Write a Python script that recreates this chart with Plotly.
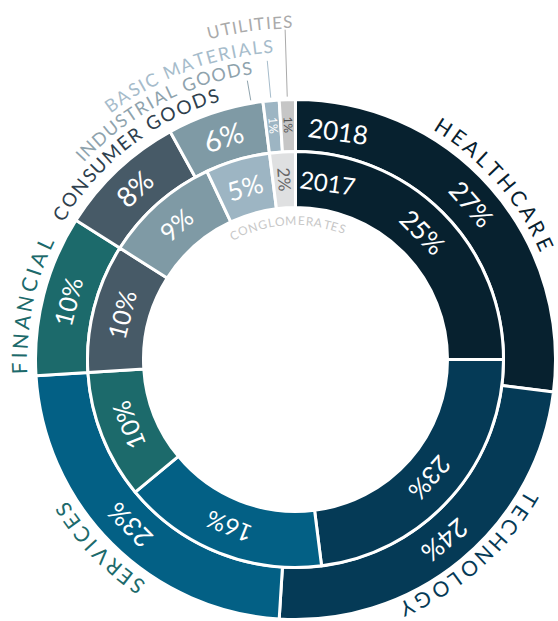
import math
import plotly.graph_objects as go

# ---------------- data ----------------
outer_labels = ["Healthcare", "Technology", "Services", "Financial",
                "Consumer Goods", "Industrial Goods", "Basic Materials", "Utilities"]
outer_values = [27, 24, 23, 10, 8, 6, 1, 1]          # 2018
inner_labels = ["Healthcare", "Technology", "Services", "Financial",
                "Consumer Goods", "Industrial Goods", "Basic Materials", "Conglomerates"]
inner_values = [25, 23, 16, 10, 10, 9, 5, 2]          # 2017
ring_years = ["2018", "2017"]

# ---------------- style ----------------
W, H = 558, 621
CX, CY = 295.5, 359.5
R_OUT, R_MID, R_IN = 260, 208, 152
FONT = "Lato, 'Open Sans', sans-serif"

colors = {
    "Healthcare": "#07212f",
    "Technology": "#053a56",
    "Services": "#036085",
    "Financial": "#1c6a6b",
    "Consumer Goods": "#475a67",
    "Industrial Goods": "#7f9aa5",
    "Basic Materials": "#9db5c3",
    "Utilities": "#c6c6c6",
    "Conglomerates": "#dfe0e1",
}
pct_text_color = {"Utilities": "#555555", "Conglomerates": "#666666"}

outer_pct_size = [26, 26, 26, 25, 28, 29, 12, 12]
inner_pct_size = [26, 25, 24, 25, 25, 25, 26, 17]

fig = go.Figure()


def dom(r):
    return dict(x=[(CX - r) / W, (CX + r) / W],
                y=[(H - CY - r) / H, (H - CY + r) / H])


fig.add_trace(go.Pie(labels=outer_labels, values=outer_values, sort=False,
                     direction="clockwise", rotation=0, hole=R_MID / R_OUT,
                     domain=dom(R_OUT), textinfo="none", hoverinfo="label+value",
                     marker=dict(colors=[colors[l] for l in outer_labels],
                                 line=dict(color="white", width=3)),
                     showlegend=False))
fig.add_trace(go.Pie(labels=inner_labels, values=inner_values, sort=False,
                     direction="clockwise", rotation=0, hole=R_IN / R_MID,
                     domain=dom(R_MID), textinfo="none", hoverinfo="label+value",
                     marker=dict(colors=[colors[l] for l in inner_labels],
                                 line=dict(color="white", width=3)),
                     showlegend=False))

annotations = []
shapes = []


def norm(a):
    return (a + 180) % 360 - 180


def pt(r, th):
    t = math.radians(th)
    return CX + r * math.sin(t), CY - r * math.cos(t)


def add_text(txt, x, y, size, color, angle=0):
    annotations.append(dict(text=txt, x=x / W, y=1 - y / H, xref="paper", yref="paper",
                            showarrow=False, xanchor="center", yanchor="middle",
                            textangle=norm(angle),
                            font=dict(family=FONT, size=size, color=color)))


def slice_angles(values):
    tot = sum(values)
    out = []
    acc = 0
    for v in values:
        a0 = acc / tot * 360
        acc += v
        a1 = acc / tot * 360
        out.append((a0, a1))
    return out


outer_ang = slice_angles(outer_values)
inner_ang = slice_angles(inner_values)

# percentage labels
for labels, values, angs, r, sizes in [
        (outer_labels, outer_values, outer_ang, 235, outer_pct_size),
        (inner_labels, inner_values, inner_ang, 180, inner_pct_size)]:
    tot = sum(values)
    for lab, v, (a0, a1), s in zip(labels, values, angs, sizes):
        mid = (a0 + a1) / 2
        pct = round(v / tot * 100)
        ang = mid + 90 if v / tot <= 0.02 else mid
        x, y = pt(r, mid)
        add_text(f"{pct}%", x, y, s, pct_text_color.get(lab, "white"), ang)

# year labels on the rings
for yr, r, s in zip(ring_years, [232, 180], [26, 24]):
    x, y = pt(r, 10.5)
    add_text(yr, x, y, s, "white", 8)

# arc text helper
CW = {"A": .68, "B": .645, "C": .68, "D": .765, "E": .575, "F": .565, "G": .74, "H": .75,
      "I": .28, "L": .5, "M": .91, "N": .75, "O": .795, "P": .6, "R": .635, "S": .51,
      "T": .58, "U": .705, "V": .68, "Y": .63, " ": .26}


def arc_text(s, r, size, color, track, center=None, end=None):
    widths = [CW.get(c, .6) * size + track for c in s]
    total = sum(widths) - track
    deg = 180 / math.pi
    if center is not None:
        start = center - total / 2 / r * deg
    else:
        start = end - total / r * deg
    acc = 0
    for c, w in zip(s, widths):
        cl = acc + (w - track) / 2
        acc += w
        if c == " ":
            continue
        th = start + cl / r * deg
        x, y = pt(r, th)
        add_text(c, x, y, size, color, th)


label_colors = {
    "Healthcare": "#07212f", "Technology": "#053a56", "Services": "#1c6a6b",
    "Financial": "#1c6a6b", "Consumer Goods": "#2e404d", "Industrial Goods": "#8fa3ad",
    "Basic Materials": "#a6bccb", "Utilities": "#aaaaaa", "Conglomerates": "#c8c8c8",
}

# big centred category labels
for lab, (a0, a1), trk, off, rr in zip(outer_labels[:4], outer_ang[:4],
                                       [4.0, 4.0, 3.4, 4.0], [0.0, -2.0, 1.0, -3.0],
                                       [276, 273, 277, 277]):
    arc_text(lab.upper(), rr, 21, label_colors[lab], trk, center=(a0 + a1) / 2 + off)

# consumer goods (no leader)
a0, a1 = outer_ang[4]
arc_text("CONSUMER GOODS", 277, 19, label_colors["Consumer Goods"], 2.3, end=a1 + 12.5)

# small slices with leader lines: (label, leader angle, leader top radius, text radius, size, track)
leader_cfg = [
    ("Industrial Goods", outer_ang[5][1] - 2.6, 283, 296, 18, 1.8),
    ("Basic Materials", sum(outer_ang[6]) / 2, 300, 315, 18, 2.0),
    ("Utilities", sum(outer_ang[7]) / 2, 330, 338, 17, 1.5),
]
for lab, la, rtop, rt, sz, trk in leader_cfg:
    x0, y0 = pt(R_OUT + 3, la)
    x1, y1 = pt(rtop, la)
    shapes.append(dict(type="line", xref="paper", yref="paper",
                       x0=x0 / W, y0=1 - y0 / H, x1=x1 / W, y1=1 - y1 / H,
                       line=dict(color=label_colors[lab], width=1)))
    arc_text(lab.upper(), rt, sz, label_colors[lab], trk, end=la + 1.2)

# conglomerates label inside the hole
arc_text("CONGLOMERATES", 139, 12, label_colors["Conglomerates"], 1.2,
         center=sum(inner_ang[7]) / 2)

fig.update_layout(width=W, height=H, margin=dict(l=0, r=0, t=0, b=0),
                  paper_bgcolor="white", plot_bgcolor="white",
                  annotations=annotations, shapes=shapes, showlegend=False)

fig.write_html("out.html", config={"displayModeBar": False},
               post_script="document.body.style.margin='0';document.body.style.overflow='hidden';")
